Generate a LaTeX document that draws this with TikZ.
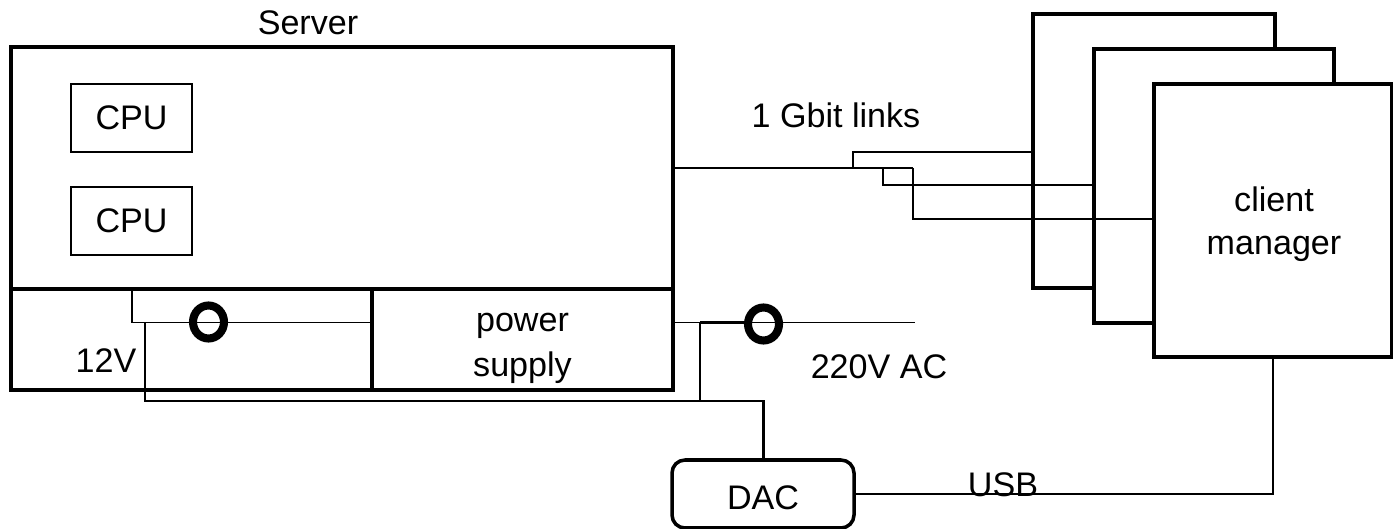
\documentclass[tikz,border=0pt]{standalone}
\usepackage{fontspec}
\setmainfont{Liberation Sans}
\usetikzlibrary{shapes.geometric}
\begin{document}
\begin{tikzpicture}[inner sep=0pt,outer sep=0pt,
every node/.style={font=\fontsize{19.4}{26}\selectfont,align=center},
hwblock/.style={draw,fill=white,rectangle,line width=2.4pt},
cpublock/.style={draw,rectangle,line width=1.2pt,minimum width=2.42cm,minimum height=1.36cm},
ferrite/.style={draw,ellipse,line width=4.6pt,minimum width=0.62cm,minimum height=0.66cm},
wire/.style={line width=1.1pt},
buswire/.style={line width=1.7pt}]
\useasboundingbox (0,0) rectangle (27.86,10.56);
\draw (6.84,6.19) node[hwblock,minimum width=13.24cm,minimum height=6.86cm] (server) {};
\draw (10.45,3.77) node[hwblock,minimum width=6.02cm,minimum height=2.02cm] (psu) {};
\draw[line width=2.4pt] (server.west |- psu.north) -- (psu.north west);
\draw (2.63,8.20) node[cpublock] (cpu1) {CPU};
\draw (2.63,6.14) node[cpublock] (cpu2) {CPU};
\draw (23.08,7.54) node[hwblock,minimum width=4.84cm,minimum height=5.48cm] (client1) {};
\draw (24.28,6.84) node[hwblock,minimum width=4.80cm,minimum height=5.48cm] (client2) {};
\draw (25.46,6.15) node[hwblock,minimum width=4.76cm,minimum height=5.46cm] (client3) {};
\draw (15.26,0.68) node[draw,rounded corners=0.26cm,line width=2pt,minimum width=3.64cm,minimum height=1.36cm] (dac) {};
% network links
\coordinate (trunk) at (server.east |- 0,7.20);
\coordinate (split1) at (17.06,7.20);
\coordinate (split2) at (17.66,7.20);
\coordinate (split3) at (18.26,7.20);
\draw[buswire] (trunk) -- (split1);
\draw[wire] (split1) -- (split3);
\draw[wire] (split1) |- (client1.west |- 0,7.52);
\draw[wire] (split2) |- (client2.west |- 0,6.86);
\draw[wire] (split3) |- (client3.west |- 0,6.18);
% power lines
\coordinate (tap) at (2.64,4.78);
\coordinate (sense) at (2.90,4.11);
\coordinate (psuin) at (psu.west |- 0,4.11);
\coordinate (psuout) at (psu.east |- 0,4.11);
\coordinate (feed) at (14.00,4.11);
\coordinate (mains) at (18.30,4.11);
\coordinate (junc) at (14.00,2.54);
\draw[wire] (tap) |- (psuin);
\draw[wire] (sense) |- (junc);
\draw[wire] (feed) -- (junc);
\draw[wire] (psuout) -- (mains);
\draw (4.17,4.12) node[ferrite] (ring1) {};
\draw (15.27,4.08) node[ferrite] (ring2) {};
\draw[buswire] (feed) -- (feed -| ring2.west);
\draw[buswire] (junc) -| (dac.90);
\draw[wire] (dac.0) -| (client3.-90);
% labels
\draw (6.16,10.10) node (serverlabel) {Server};
\draw (16.72,8.26) node (linklabel) {1 Gbit links};
\draw (2.12,3.35) node (lowlabel) {12V};
\draw (17.58,3.22) node (mainslabel) {220V AC};
\draw (20.06,0.86) node (usblabel) {USB};
\draw (10.45,3.59) node (psulabel) {power\\supply};
\draw (25.48,6.08) node (clientlabel) {client\\[-1.5pt]manager};
\draw (15.26,0.60) node (daclabel) {DAC};
\end{tikzpicture}
\end{document}
